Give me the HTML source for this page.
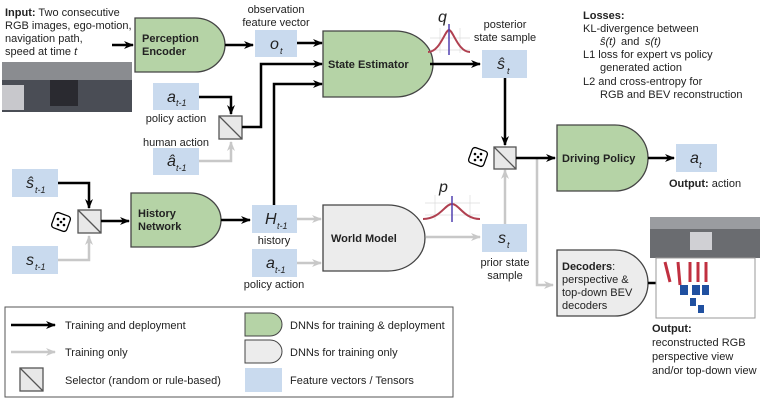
<!DOCTYPE html>
<html><head><meta charset="utf-8"><style>
body{margin:0;background:#fff}
svg{display:block}
text{font-family:"Liberation Sans",sans-serif;font-size:11px;fill:#222}
.b{font-weight:bold}
.v{font-style:italic;font-size:16px}
.s{font-style:italic;font-size:9px}
</style></head><body>
<svg width="764" height="400" viewBox="0 0 764 400" xmlns="http://www.w3.org/2000/svg">
<defs>
<marker id="ak" markerWidth="10" markerHeight="8" refX="9" refY="4" orient="auto" markerUnits="userSpaceOnUse"><path d="M0,0 L10,4 L0,8 L3,4z" fill="#000"/></marker>
<marker id="ag" markerWidth="10" markerHeight="8" refX="9" refY="4" orient="auto" markerUnits="userSpaceOnUse"><path d="M0,0 L10,4 L0,8 L3,4z" fill="#c8c8c8"/></marker>
<g id="dice"><rect x="0" y="0" width="16" height="16" rx="3" fill="#fff" stroke="#000" stroke-width="1.3" transform="rotate(20 8 8)"/><circle cx="5" cy="5" r="1.3"/><circle cx="11" cy="11" r="1.3"/><circle cx="8" cy="8" r="1.3"/><circle cx="11" cy="5" r="1.3"/><circle cx="5" cy="11" r="1.3"/></g>
</defs>
<!-- input -->
<text x="5" y="16"><tspan class="b">Input:</tspan> Two consecutive</text>
<text x="5" y="29">RGB images, ego-motion,</text>
<text x="5" y="42">navigation path,</text>
<text x="5" y="55">speed at time <tspan font-style="italic">t</tspan></text>
<rect x="2" y="62" width="130" height="50" fill="#4a4d55"/>
<rect x="2" y="62" width="130" height="18" fill="#8a8c90"/>
<rect x="2" y="85" width="22" height="25" fill="#c8c8cc"/>
<rect x="50" y="80" width="28" height="26" fill="#2a2a30"/>
<line x1="112" y1="45" x2="133" y2="45" stroke="#000" stroke-width="2.5" marker-end="url(#ak)"/>
<!-- perception encoder -->
<path d="M135,18 H195 A30,27 0 0 1 195,72 H135 Z" fill="#b5d3a6" stroke="#444" stroke-width="1.3"/>
<text x="142" y="42" class="b">Perception</text><text x="142" y="55" class="b">Encoder</text>
<line x1="225" y1="45" x2="253" y2="45" stroke="#000" stroke-width="2.5" marker-end="url(#ak)"/>
<text x="276" y="13" text-anchor="middle">observation</text><text x="276" y="26" text-anchor="middle">feature vector</text>
<rect x="255" y="30" width="42" height="27" fill="#c9daee"/>
<text x="270" y="49" class="v">o</text><text x="280" y="54" class="s">t</text>
<line x1="297" y1="43" x2="322" y2="43" stroke="#000" stroke-width="2.5" marker-end="url(#ak)"/>
<!-- state estimator -->
<path d="M323,31 H395 A38,33 0 0 1 395,97 H323 Z" fill="#b5d3a6" stroke="#444" stroke-width="1.3"/>
<text x="328" y="68" class="b">State Estimator</text>
<!-- q dist -->
<g stroke="#ddd" stroke-width="0.7"><line x1="430" y1="38" x2="470" y2="38"/><line x1="430" y1="50" x2="470" y2="50"/><line x1="440" y1="28" x2="440" y2="53"/><line x1="460" y1="28" x2="460" y2="53"/></g>
<path d="M428,52 C440,52 445,30 449,30 C453,30 458,52 470,52" fill="none" stroke="#b04050" stroke-width="2"/>
<line x1="449" y1="24" x2="449" y2="55" stroke="#5040b0" stroke-width="1.5"/>
<text x="438" y="22" class="v">q</text>
<line x1="430" y1="64" x2="480" y2="64" stroke="#000" stroke-width="2.5" marker-end="url(#ak)"/>
<text x="505" y="28" text-anchor="middle">posterior</text><text x="505" y="41" text-anchor="middle">state sample</text>
<rect x="482" y="50" width="45" height="28" fill="#c9daee"/>
<text x="497" y="69" class="v">ŝ</text><text x="507" y="74" class="s">t</text>
<!-- losses -->
<text x="583" y="19" class="b">Losses:</text>
<text x="583" y="32">KL-divergence between</text>
<text x="600" y="45" font-style="italic">ŝ(t)</text><text x="621" y="45"> and </text><text x="645" y="45" font-style="italic">s(t)</text>
<text x="583" y="58">L1 loss for expert vs policy</text>
<text x="600" y="71">generated action</text>
<text x="583" y="85">L2 and cross-entropy for</text>
<text x="600" y="98">RGB and BEV reconstruction</text>
<!-- a_{t-1} / selector -->
<rect x="153" y="83" width="46" height="27" fill="#c9daee"/>
<text x="167" y="102" class="v">a</text><text x="176" y="106" class="s">t-1</text>
<text x="176" y="122" text-anchor="middle">policy action</text>
<text x="176" y="146" text-anchor="middle">human action</text>
<rect x="153" y="148" width="46" height="27" fill="#c9daee"/>
<text x="167" y="166" class="v">â</text><text x="176" y="171" class="s">t-1</text>
<polyline points="199,97 231,97 231,114" fill="none" stroke="#000" stroke-width="2.5" marker-end="url(#ak)"/>
<polyline points="199,161 231,161 231,142" fill="none" stroke="#c8c8c8" stroke-width="2.5" marker-end="url(#ag)"/>
<rect x="219" y="116" width="23" height="23" fill="#e8e8e8" stroke="#555" stroke-width="1.3"/><line x1="219" y1="116" x2="242" y2="139" stroke="#555" stroke-width="1.3"/>
<polyline points="242,127 261,127 261,64 322,64" fill="none" stroke="#000" stroke-width="2.5" marker-end="url(#ak)"/>
<polyline points="274,205 274,84 322,84" fill="none" stroke="#000" stroke-width="2.5" marker-end="url(#ak)"/>
<!-- history section -->
<rect x="12" y="169" width="46" height="28" fill="#c9daee"/>
<text x="26" y="188" class="v">ŝ</text><text x="35" y="193" class="s">t-1</text>
<rect x="12" y="246" width="46" height="28" fill="#c9daee"/>
<text x="26" y="265" class="v">s</text><text x="35" y="270" class="s">t-1</text>
<polyline points="58,183 89,183 89,208" fill="none" stroke="#000" stroke-width="2.5" marker-end="url(#ak)"/>
<polyline points="58,260 89,260 89,236" fill="none" stroke="#c8c8c8" stroke-width="2.5" marker-end="url(#ag)"/>
<rect x="78" y="210" width="23" height="23" fill="#e8e8e8" stroke="#555" stroke-width="1.3"/><line x1="78" y1="210" x2="101" y2="233" stroke="#555" stroke-width="1.3"/>
<use href="#dice" x="53" y="214"/>
<line x1="101" y1="221" x2="129" y2="221" stroke="#000" stroke-width="2.5" marker-end="url(#ak)"/>
<path d="M131,193 H190 A31,27 0 0 1 190,247 H131 Z" fill="#b5d3a6" stroke="#444" stroke-width="1.3"/>
<text x="138" y="217" class="b">History</text><text x="138" y="230" class="b">Network</text>
<line x1="221" y1="220" x2="250" y2="220" stroke="#000" stroke-width="2.5" marker-end="url(#ak)"/>
<rect x="252" y="205" width="45" height="28" fill="#c9daee"/>
<text x="265" y="224" class="v">H</text><text x="277" y="229" class="s">t-1</text>
<text x="274" y="244" text-anchor="middle">history</text>
<rect x="252" y="249" width="45" height="28" fill="#c9daee"/>
<text x="266" y="268" class="v">a</text><text x="275" y="273" class="s">t-1</text>
<text x="274" y="288" text-anchor="middle">policy action</text>
<line x1="297" y1="219" x2="321" y2="219" stroke="#c8c8c8" stroke-width="2.5" marker-end="url(#ag)"/>
<line x1="297" y1="263" x2="321" y2="263" stroke="#c8c8c8" stroke-width="2.5" marker-end="url(#ag)"/>
<!-- world model -->
<path d="M323,205 H388 A37,33 0 0 1 388,271 H323 Z" fill="#ececec" stroke="#444" stroke-width="1.3"/>
<text x="331" y="242" class="b">World Model</text>
<g stroke="#ddd" stroke-width="0.7"><line x1="425" y1="203" x2="480" y2="203"/><line x1="425" y1="215" x2="480" y2="215"/><line x1="435" y1="195" x2="435" y2="220"/><line x1="470" y1="195" x2="470" y2="220"/></g>
<path d="M423,219 C440,219 445,204 452,204 C459,204 464,219 480,219" fill="none" stroke="#b04050" stroke-width="2"/>
<line x1="452" y1="196" x2="452" y2="222" stroke="#5040b0" stroke-width="1.5"/>
<text x="439" y="192" class="v">p</text>
<line x1="426" y1="237" x2="480" y2="237" stroke="#c8c8c8" stroke-width="2.5" marker-end="url(#ag)"/>
<rect x="482" y="224" width="45" height="28" fill="#c9daee"/>
<text x="498" y="243" class="v">s</text><text x="507" y="248" class="s">t</text>
<text x="505" y="266" text-anchor="middle">prior state</text><text x="505" y="279" text-anchor="middle">sample</text>
<!-- selector 3 -->
<line x1="505" y1="78" x2="505" y2="145" stroke="#000" stroke-width="2.5" marker-end="url(#ak)"/>
<line x1="505" y1="224" x2="505" y2="170" stroke="#c8c8c8" stroke-width="2.5" marker-end="url(#ag)"/>
<rect x="494" y="147" width="22" height="22" fill="#e8e8e8" stroke="#555" stroke-width="1.3"/><line x1="494" y1="147" x2="516" y2="169" stroke="#555" stroke-width="1.3"/>
<use href="#dice" x="470" y="149"/>
<polyline points="537,158 537,285 553,285" fill="none" stroke="#c8c8c8" stroke-width="2.5" marker-end="url(#ag)"/>
<line x1="516" y1="158" x2="555" y2="158" stroke="#000" stroke-width="2.5" marker-end="url(#ak)"/>
<!-- driving policy -->
<path d="M557,125 H615 A33,33 0 0 1 615,191 H557 Z" fill="#b5d3a6" stroke="#444" stroke-width="1.3"/>
<text x="562" y="162" class="b">Driving Policy</text>
<line x1="648" y1="158" x2="674" y2="158" stroke="#000" stroke-width="2.5" marker-end="url(#ak)"/>
<rect x="676" y="144" width="41" height="28" fill="#c9daee"/>
<text x="690" y="163" class="v">a</text><text x="699" y="168" class="s">t</text>
<text x="669" y="187"><tspan class="b">Output:</tspan> action</text>
<!-- decoders -->
<path d="M557,250 H615 A33,33 0 0 1 615,316 H557 Z" fill="#ececec" stroke="#444" stroke-width="1.3"/>
<text x="562" y="270"><tspan class="b">Decoders</tspan>:</text>
<text x="562" y="283">perspective &amp;</text>
<text x="562" y="296">top-down BEV</text>
<text x="562" y="309">decoders</text>
<line x1="648" y1="283" x2="673" y2="283" stroke="#000" stroke-width="2.5" marker-end="url(#ak)"/>
<rect x="650" y="217" width="110" height="41" fill="#6a6c70"/>
<rect x="650" y="217" width="110" height="12" fill="#9a9ca0"/>
<rect x="690" y="232" width="22" height="18" fill="#d0d0d4"/>
<rect x="656" y="258" width="99" height="60" fill="#fff" stroke="#999" stroke-width="1"/>
<g stroke="#c03040" stroke-width="3"><line x1="665" y1="262" x2="670" y2="282"/><line x1="678" y1="262" x2="680" y2="285"/><line x1="690" y1="262" x2="690" y2="282"/><line x1="698" y1="262" x2="698" y2="282"/><line x1="706" y1="262" x2="706" y2="282"/></g>
<g fill="#2050a0"><rect x="680" y="285" width="8" height="10"/><rect x="692" y="285" width="8" height="10"/><rect x="702" y="285" width="7" height="10"/><rect x="690" y="298" width="6" height="8"/><rect x="698" y="305" width="6" height="8"/></g>
<text x="652" y="332" class="b">Output:</text>
<text x="652" y="346">reconstructed RGB</text>
<text x="652" y="360">perspective view</text>
<text x="652" y="374">and/or top-down view</text>
<!-- legend -->
<rect x="5" y="307" width="448" height="90" fill="#fff" stroke="#555" stroke-width="1"/>
<line x1="11" y1="325" x2="55" y2="325" stroke="#000" stroke-width="2.5" marker-end="url(#ak)"/>
<text x="65" y="329">Training and deployment</text>
<line x1="11" y1="352" x2="55" y2="352" stroke="#c8c8c8" stroke-width="2.5" marker-end="url(#ag)"/>
<text x="65" y="356">Training only</text>
<rect x="20" y="368" width="23" height="23" fill="#e8e8e8" stroke="#555" stroke-width="1.3"/><line x1="20" y1="368" x2="43" y2="391" stroke="#555" stroke-width="1.3"/>
<text x="65" y="384">Selector (random or rule-based)</text>
<path d="M245,313 H270 A12,11.5 0 0 1 270,336 H245 Z" fill="#b5d3a6" stroke="#444" stroke-width="1"/>
<text x="290" y="329">DNNs for training &amp; deployment</text>
<path d="M245,340 H270 A12,11.5 0 0 1 270,363 H245 Z" fill="#ececec" stroke="#444" stroke-width="1"/>
<text x="290" y="356">DNNs for training only</text>
<rect x="245" y="368" width="37" height="24" fill="#c9daee"/>
<text x="290" y="384">Feature vectors / Tensors</text>
</svg>
</body></html>
